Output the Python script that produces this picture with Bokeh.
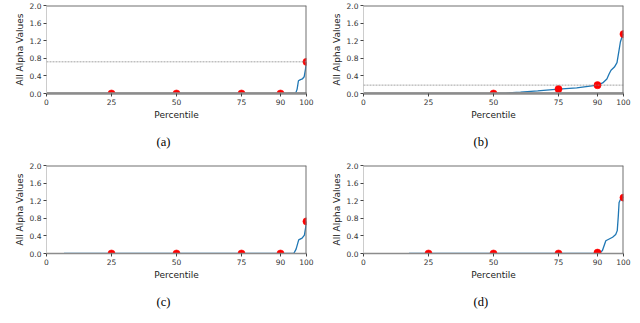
import math
from bokeh.plotting import figure
from bokeh.models import Range1d, FixedTicker, NumeralTickFormatter, Span, Title
from bokeh.layouts import column, row
from bokeh.embed import file_html
from bokeh.resources import INLINE

# ---- data ----
x_ticks = [0, 25, 50, 75, 90, 100]
y_ticks = [0.0, 0.4, 0.8, 1.2, 1.6, 2.0]

a_pct = [93.0, 95.8, 96.4, 96.9, 97.5, 98.4, 99.1, 99.6, 100.0]
a_val = [0.0, 0.0, 0.10, 0.29, 0.31, 0.33, 0.38, 0.55, 0.72]
a_mark_pct = [25, 50, 75, 90, 100]
a_mark_val = [0.0, 0.0, 0.0, 0.0, 0.72]
a_ref = 0.72

b_pct = [50.1, 55.0, 60.4, 67.0, 75.0, 82.0, 90.0, 92.0, 93.6, 94.5, 95.2, 96.5, 97.5, 98.2, 98.8, 99.5, 100.0]
b_val = [0.0, 0.01, 0.03, 0.06, 0.10, 0.13, 0.19, 0.24, 0.33, 0.45, 0.53, 0.60, 0.70, 0.95, 1.17, 1.30, 1.35]
b_mark_pct = [50, 75, 90, 100]
b_mark_val = [0.0, 0.10, 0.19, 1.35]
b_ref = 0.19

c_pct = [6.7, 95.1, 96.0, 97.0, 98.3, 99.2, 99.7, 100.0]
c_val = [0.0, 0.0, 0.10, 0.31, 0.35, 0.42, 0.60, 0.73]
c_mark_pct = [25, 50, 75, 90, 100]
c_mark_val = [0.0, 0.0, 0.0, 0.0, 0.73]

d_pct = [17.5, 90.6, 91.9, 93.2, 94.5, 95.8, 97.0, 97.6, 98.0, 98.3, 99.0, 100.0]
d_val = [0.0, 0.0, 0.07, 0.29, 0.33, 0.37, 0.43, 0.52, 0.85, 1.16, 1.25, 1.28]
d_mark_pct = [25, 50, 75, 90, 100]
d_mark_val = [0.0, 0.0, 0.0, 0.02, 1.27]

captions = ["(a)", "(b)", "(c)", "(d)"]

SANS = "DejaVu Sans"
SERIF = "Liberation Serif"


def marker_angles(px, py):
    # emulate clipping of markers that sit on the frame edge
    starts, ends = [], []
    for x, y in zip(px, py):
        if x >= 100:
            starts.append(math.pi / 2); ends.append(3 * math.pi / 2)
        elif y <= 0.0:
            starts.append(0.0); ends.append(math.pi)
        else:
            starts.append(0.0); ends.append(2 * math.pi)
    return starts, ends


def panel(pct, val, mpct, mval, ref, caption, width, height, bl, br, bt, bb,
          zero_thick):
    p = figure(width=width, height=height, output_backend="svg",
               toolbar_location=None, x_range=Range1d(0, 100),
               y_range=Range1d(0, 2.0), min_border_left=bl,
               min_border_right=br, min_border_top=bt, min_border_bottom=bb,
               background_fill_color="white", border_fill_color="white")
    p.outline_line_color = None
    p.xgrid.grid_line_color = None
    p.ygrid.grid_line_color = None

    p.xaxis.ticker = FixedTicker(ticks=x_ticks)
    p.yaxis.ticker = FixedTicker(ticks=y_ticks)
    p.yaxis.formatter = NumeralTickFormatter(format="0.0")
    for ax in (p.xaxis[0], p.yaxis[0]):
        ax.major_label_text_font = SANS
        ax.major_label_text_font_size = "7.5px"
        ax.major_label_text_color = "#333333"
        ax.axis_label_text_font = SANS
        ax.axis_label_text_font_size = "9px"
        ax.axis_label_text_font_style = "normal"
        ax.axis_label_text_color = "#222222"
        ax.major_tick_in = 0
        ax.major_tick_out = 3
        ax.major_tick_line_color = "#444444"
        ax.minor_tick_line_color = None
        ax.major_label_standoff = 2
        ax.axis_label_standoff = 2
    p.xaxis.axis_label = "Percentile"
    p.yaxis.axis_label = "All Alpha Values"
    p.yaxis.axis_line_color = "#cccccc"
    p.yaxis.axis_line_width = 1
    p.xaxis.axis_line_color = "#8c8c8c"
    p.xaxis.axis_line_width = 2.5 if zero_thick else 1.5

    # top and right spines
    p.add_layout(Span(location=2.0, dimension="width", line_color="#707070", line_width=2))
    p.add_layout(Span(location=100, dimension="height", line_color="#707070", line_width=2))

    if ref is not None:
        p.add_layout(Span(location=ref, dimension="width", line_color="#8a8a8a",
                          line_width=0.8, line_dash="2 1"))

    p.line(pct, val, line_color="#1f77b4", line_width=1.3)
    if zero_thick:
        p.line([0, 100], [0, 0], line_color="#8c8c8c", line_width=2.5, line_alpha=0.85)
    else:
        p.line([0, 100], [0, 0], line_color="#6f7f8c", line_width=1.0, line_alpha=0.6)
    s, e = marker_angles(mpct, mval)
    p.wedge(x=mpct, y=mval, radius=3.6, radius_units="screen",
            start_angle=s, end_angle=e, fill_color="red", line_color="red",
            line_width=0.5)

    p.add_layout(Title(text=caption, align="left", offset=110, standoff=22,
                       vertical_align="middle",
                       text_font=SERIF, text_font_size="12.5px",
                       text_font_style="normal", text_color="black"), "below")
    return p


p1 = panel(a_pct, a_val, a_mark_pct, a_mark_val, a_ref, captions[0],
           320, 160, 46, 14, 5, 63, True)
p2 = panel(b_pct, b_val, b_mark_pct, b_mark_val, b_ref, captions[1],
           316, 160, 43, 13, 5, 63, True)
p3 = panel(c_pct, c_val, c_mark_pct, c_mark_val, None, captions[2],
           320, 160, 46, 14, 5, 64, False)
p4 = panel(d_pct, d_val, d_mark_pct, d_mark_val, None, captions[3],
           316, 160, 43, 13, 5, 64, False)

layout = column(row(p1, p2), row(p3, p4))
open("out.html", "w").write(file_html(layout, INLINE))
